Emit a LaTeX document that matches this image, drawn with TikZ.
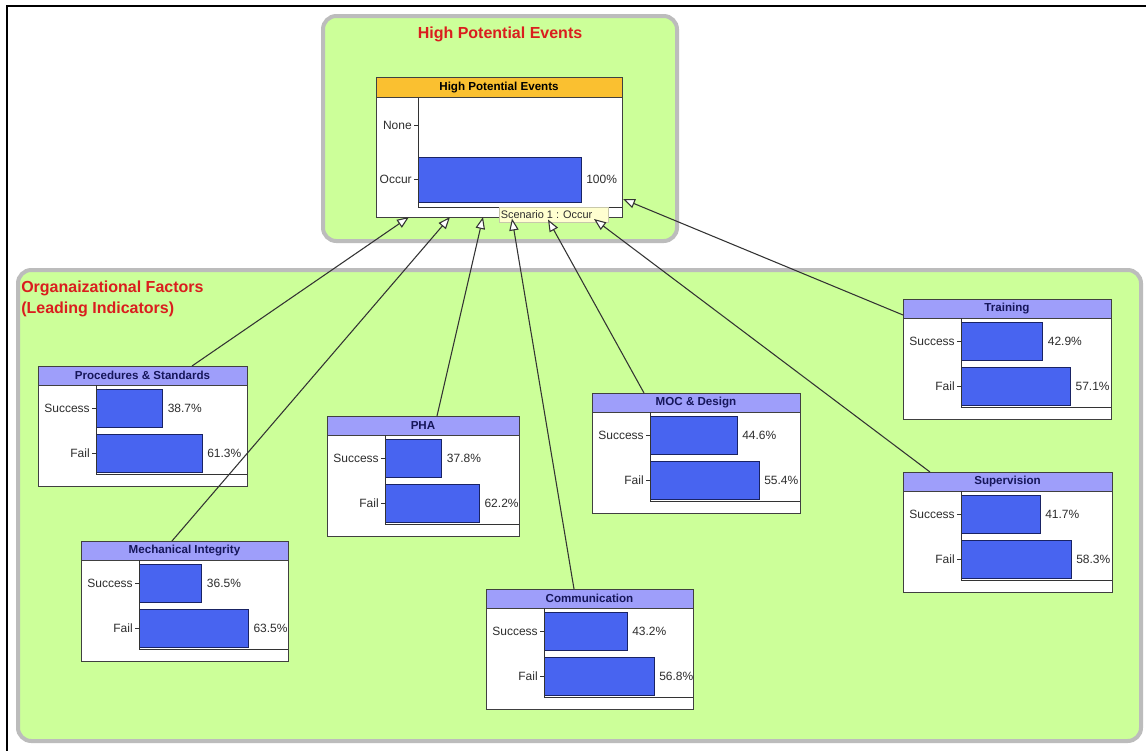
\documentclass[tikz,border=0pt]{standalone}
\usepackage{fontspec}
\setmainfont{Liberation Sans}
\usetikzlibrary{calc,arrows.meta}

\definecolor{groupfill}{RGB}{204,255,153}
\definecolor{groupedge}{RGB}{188,188,188}
\definecolor{titlered}{RGB}{218,30,30}
\definecolor{headblue}{RGB}{158,158,250}
\definecolor{headtext}{RGB}{22,22,90}
\definecolor{barblue}{RGB}{72,100,240}
\definecolor{baredge}{RGB}{25,35,100}
\definecolor{headorange}{RGB}{250,192,48}
\definecolor{tipfill}{RGB}{255,255,208}
\definecolor{tipedge}{RGB}{200,200,170}
\definecolor{labelgray}{RGB}{45,45,45}

\tikzset{
  group/.style={draw=groupedge, line width=3pt, fill=groupfill, rounded corners=10pt},
  grouptitle/.style={text=titlered, font=\fontsize{12}{15}\selectfont\bfseries, inner sep=0pt},
  boxframe/.style={draw=black!75, line width=0.75pt, fill=white, inner sep=0pt, outer sep=0pt},
  boxhead/.style={draw=black!75, line width=0.75pt, fill=headblue, text=headtext,
    font=\fontsize{8.7}{10}\selectfont\bfseries, inner sep=0pt, outer sep=0pt},
  bar/.style={draw=baredge, line width=0.75pt, fill=barblue, inner sep=0pt, outer sep=0pt},
  axisline/.style={draw=black!80, line width=0.75pt},
  lbl/.style={text=labelgray, font=\fontsize{9}{10}\selectfont, inner sep=0pt},
  tipbox/.style={draw=tipedge, line width=0.75pt, fill=tipfill, inner sep=0pt, outer sep=0pt},
  tiptext/.style={text=labelgray, font=\fontsize{8.2}{10}\selectfont, inner sep=0pt},
  link/.style={draw=black!80, line width=0.8pt, -{Triangle[length=9pt,width=7pt,fill=white]}},
  frameline/.style={draw=black, line width=1.6pt}
}

% name, x, y, width, title, success %, fail %, success bar length, fail bar length
\newcommand{\stateBox}[9]{%
  \node[boxframe, anchor=north west, minimum width=#4*0.75pt, minimum height=90pt] (#1) at (#2,#3) {};
  \node[boxhead, anchor=north west, minimum width=#4*0.75pt, minimum height=19*0.75pt] (#1-head) at (#1.north west) {#5};
  \node[bar, anchor=north west, minimum width=#8*0.75pt, minimum height=38.5*0.75pt] (#1-sbar) at ($(#1.north west)+(58,23)$) {};
  \node[bar, anchor=north west, minimum width=#9*0.75pt, minimum height=38.5*0.75pt] (#1-fbar) at ($(#1.north west)+(58,68)$) {};
  \draw[axisline] ($(#1.north west)+(58,19)$) -- ($(#1.north west)+(58,108.5)$) -- ($(#1.north east)+(0,108.5)$);
  \draw[axisline] ($(#1-sbar.west)+(-4,0)$) -- (#1-sbar.west);
  \draw[axisline] ($(#1-fbar.west)+(-4,0)$) -- (#1-fbar.west);
  \node[lbl, anchor=east] (#1-slbl) at ($(#1-sbar.west)+(-6,0)$) {Success};
  \node[lbl, anchor=east] (#1-flbl) at ($(#1-fbar.west)+(-6,0)$) {Fail};
  \node[lbl, anchor=west] (#1-sval) at ($(#1-sbar.east)+(5,0)$) {#6\%};
  \node[lbl, anchor=west] (#1-fval) at ($(#1-fbar.east)+(5,0)$) {#7\%};
}

\begin{document}
\begin{tikzpicture}[x=0.75pt,y=-0.75pt]
  \useasboundingbox (0,0) rectangle (1146,750);
  \fill[white] (0,0) rectangle (1146,750);

  % outer frame (top and left edges)
  \draw[frameline] (7,752) -- (7,6) -- (1148,6);

  % group panels
  \draw[group] (323,16) rectangle (677,241);
  \draw[group] (18,270) rectangle (1141,741);
  \node[grouptitle, anchor=base] (toptitle) at (500,38) {High Potential Events};
  \node[grouptitle, anchor=base west] (bottitle1) at (21,292) {Organaizational Factors};
  \node[grouptitle, anchor=base west] (bottitle2) at (21,313) {(Leading Indicators)};

  % outcome node
  \node[boxframe, anchor=north west, minimum width=246*0.75pt, minimum height=140*0.75pt] (hpe) at (376,77) {};
  \node[boxhead, fill=headorange, text=black, anchor=north west, minimum width=246*0.75pt, minimum height=20.5*0.75pt] (hpe-head) at (hpe.north west) {High Potential Events};
  \node[bar, anchor=north west, minimum width=163*0.75pt, minimum height=45.6*0.75pt] (hpe-obar) at ($(hpe.north west)+(42,80)$) {};
  \draw[axisline] ($(hpe.north west)+(42,20.5)$) -- ($(hpe.north west)+(42,130)$) -- ($(hpe.north east)+(0,130)$);
  \coordinate (hpe-nonept) at ($(hpe.north west)+(42,48)$);
  \draw[axisline] ($(hpe-nonept)+(-4,0)$) -- (hpe-nonept);
  \draw[axisline] ($(hpe-obar.west)+(-4,0)$) -- (hpe-obar.west);
  \node[lbl, anchor=east] (hpe-none) at ($(hpe-nonept)+(-6,0)$) {None};
  \node[lbl, anchor=east] (hpe-occur) at ($(hpe-obar.west)+(-6,0)$) {Occur};
  \node[lbl, anchor=west] (hpe-oval) at ($(hpe-obar.east)+(5,0)$) {100\%};

  % scenario tooltip
  \node[tipbox, anchor=north west, minimum width=109*0.75pt, minimum height=15*0.75pt] (scen) at (499,207) {};
  \node[tiptext, anchor=west] (scen-text) at ($(scen.west)+(1.5,0.5)$) {Scenario 1 : Occur};

  % factor nodes
  \stateBox{proc}{38}{366}{209}{Procedures \& Standards}{38.7}{61.3}{66.5}{106}
  \stateBox{mech}{81}{541}{207}{Mechanical Integrity}{36.5}{63.5}{62.7}{109.3}
  \stateBox{pha}{327}{416}{192}{PHA}{37.8}{62.2}{56.7}{94.3}
  \stateBox{comm}{486}{589}{207}{Communication}{43.2}{56.8}{83}{110}
  \stateBox{moc}{592}{393}{208}{MOC \& Design}{44.6}{55.4}{87}{109}
  \stateBox{sup}{903}{472}{209}{Supervision}{41.7}{58.3}{79}{110}
  \stateBox{train}{903}{299}{208}{Training}{42.9}{57.1}{81.6}{109.3}

  % influence links
  \draw[link] ($(proc.north west)+(154,0)$) -- ($(hpe.south west)+(33,0)$);
  \draw[link] ($(mech.north west)+(91,0)$) -- ($(hpe.south west)+(74,0)$);
  \draw[link] ($(pha.north west)+(110,0)$) -- ($(hpe.south west)+(107,0)$);
  \draw[link] ($(comm.north west)+(88,0)$) -- ($(hpe.south west)+(136,1.5)$);
  \draw[link] ($(moc.north west)+(52,0)$) -- ($(hpe.south west)+(172,2.5)$);
  \draw[link] ($(sup.north west)+(27,0)$) -- ($(hpe.south west)+(218,2)$);
  \draw[link] ($(train.north west)+(0,16)$) -- ($(hpe.south east)+(1,-18)$);
\end{tikzpicture}
\end{document}
